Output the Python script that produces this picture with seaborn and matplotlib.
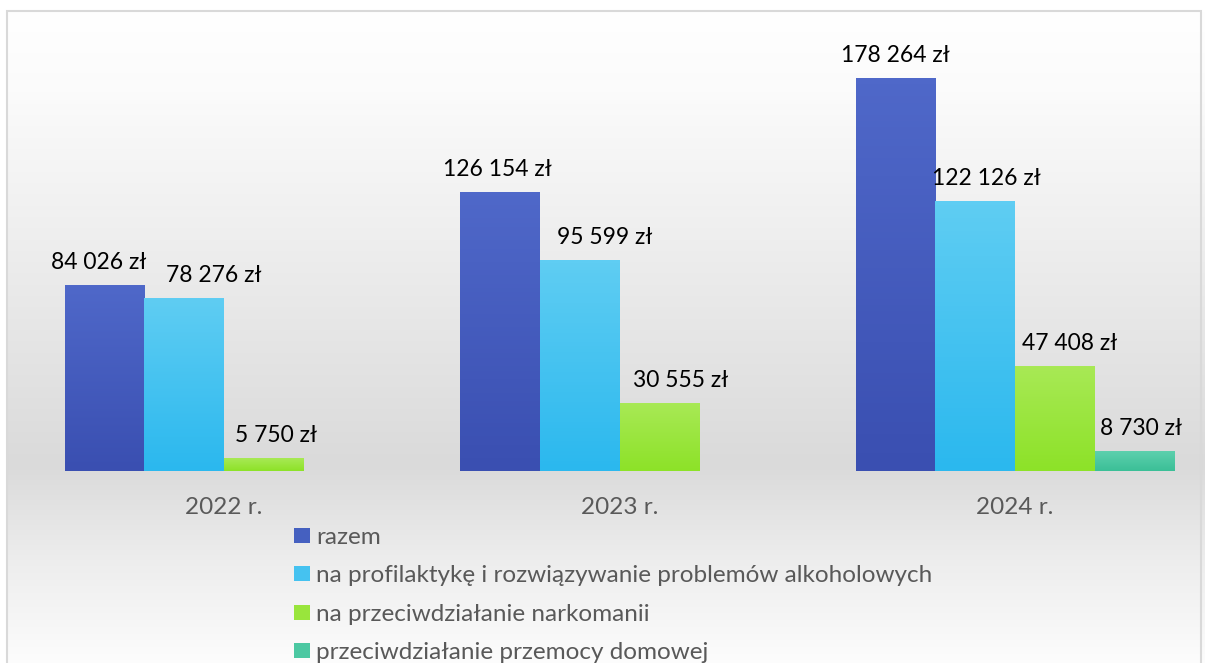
import numpy as np
import pandas as pd
import matplotlib
matplotlib.use("Agg")
import matplotlib.pyplot as plt
from matplotlib.colors import to_rgb
from matplotlib.patches import Patch, Rectangle
import seaborn as sns

years = ['2022 r.', '2023 r.', '2024 r.']
series = ['razem',
          'na profilaktykę i rozwiązywanie problemów alkoholowych',
          'na przeciwdziałanie narkomanii',
          'przeciwdziałanie przemocy domowej']
razem = [84026, 126154, 178264]
alkohol = [78276, 95599, 122126]
narkomania = [5750, 30555, 47408]
przemoc = [np.nan, np.nan, 8730]

# top / bottom colours of the bar gradients
top_colors = ['#4f68c9', '#5fcdf3', '#a8e955', '#5dd0ad']
bottom_colors = ['#3a4fb1', '#2bb8ee', '#8de228', '#3bbf97']
# horizontal nudges of the value labels (points), per series and year
label_dx = [[-4, -2, 0], [21, 18, 8], [9, 15, 11], [5, 5, 5]]

df = pd.DataFrame({
    'rok': years * 4,
    'seria': [s for s in series for _ in years],
    'kwota': razem + alkohol + narkomania + przemoc,
})

sns.set_style("white")
plt.rcParams['font.family'] = ['Lato', 'DejaVu Sans']

W, H = 1205, 663
fig = plt.figure(figsize=(W / 100, H / 100), dpi=100)

# background gradient (white -> gray -> white)
bg = fig.add_axes([0, 0, 1, 1], zorder=-2)
rows = np.arange(H)
shade = np.interp(rows, [0, 11, 90, 465, 560, 663], [1.0, 1.0, 0.985, 0.855, 0.93, 0.99])
bg_img = np.repeat(shade[:, None], W, axis=1)
bg_img[:11, :] = 1.0
bg_img[:, :7] = 1.0
bg.imshow(np.dstack([bg_img] * 3), aspect='auto', extent=(0, 1, 0, 1), origin='upper')
bg.set_xlim(0, 1)
bg.set_ylim(0, 1)
bg.axis('off')
bg.add_patch(Rectangle((7 / W, -0.1), (1201 - 7) / W, 1.1 - 11 / H,
                       fill=False, edgecolor='#d9d9d9', linewidth=1.5))

ax = fig.add_axes([7 / W, 192 / H, 1194 / W, 460 / H])
ax.patch.set_alpha(0)

sns.barplot(data=df, x='rok', y='kwota', hue='seria', hue_order=series,
            palette=top_colors, width=0.805, saturation=1, legend=False, ax=ax)

xlim = (-217 / 395.5, 977 / 395.5)
ylim = (0, 460 / (393 / 178264))

for i, cont in enumerate(ax.containers):
    grad = np.linspace(to_rgb(top_colors[i]), to_rgb(bottom_colors[i]), 64)[:, None, :]
    for bar in cont:
        h = bar.get_height()
        if not np.isfinite(h) or h <= 0:
            continue
        x0 = bar.get_x()
        w = bar.get_width()
        ax.imshow(grad, extent=(x0, x0 + w, 0, h), aspect='auto', origin='upper', zorder=2)
        bar.set_visible(False)
        k = int(round(x0 + w / 2))  # year index
        label = f"{int(h):,} zł".replace(',', ' ')
        ax.annotate(label, (x0 + w / 2, h), xytext=(label_dx[i][k], 9), textcoords='offset points',
                    ha='center', va='bottom', fontsize=16.5, color='#000000')

ax.set_xlim(*xlim)
ax.set_ylim(*ylim)
ax.set_xlabel('')
ax.set_ylabel('')
ax.set_yticks([])
ax.tick_params(axis='x', length=0, pad=19, labelsize=17.5, labelcolor='#595959')
sns.despine(ax=ax, left=True, bottom=True)

handles = [Patch(facecolor=c, edgecolor='none') for c in
           ['#4560c0', '#45c2f0', '#99e53c', '#4cc8a2']]
fig.legend(handles, series, loc='upper left', bbox_to_anchor=(284 / W, 1 - 517 / H),
           frameon=False, fontsize=17.5, labelcolor='#595959', handlelength=0.66,
           handleheight=0.58, handletextpad=0.25, labelspacing=0.72, borderaxespad=0)

fig.savefig('out.png', dpi=100)
